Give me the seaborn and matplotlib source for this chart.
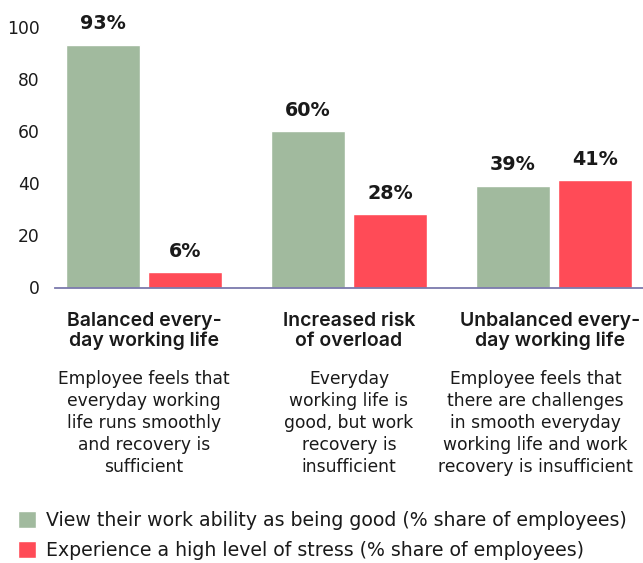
import matplotlib
matplotlib.use("Agg")
import matplotlib.pyplot as plt
import seaborn as sns
import pandas as pd

# Data
groups = ["Balanced", "Increased risk", "Unbalanced"]
work_ability = [93, 60, 39]
high_stress = [6, 28, 41]
series_names = [
    "View their work ability as being good (% share of employees)",
    "Experience a high level of stress (% share of employees)",
]
headers = [
    "Balanced every-\nday working life",
    "Increased risk\nof overload",
    "Unbalanced every-\nday working life",
]
descriptions = [
    "Employee feels that\neveryday working\nlife runs smoothly\nand recovery is\nsufficient",
    "Everyday\nworking life is\ngood, but work\nrecovery is\ninsufficient",
    "Employee feels that\nthere are challenges\nin smooth everyday\nworking life and work\nrecovery is insufficient",
]
y_ticks = [0, 20, 40, 60, 80, 100]

GREEN = "#a1ba9e"
RED = "#ff4b57"
AXIS = "#7b79ad"
TEXT = "#1a1a1a"
BODY_FONT = ["DejaVu Sans"]
HEAD_FONT = ["Inter", "DejaVu Sans"]

df = pd.DataFrame({
    "group": groups * 2,
    "value": work_ability + high_stress,
    "series": [series_names[0]] * 3 + [series_names[1]] * 3,
})

sns.set_theme(style="white")
plt.rcParams["font.family"] = BODY_FONT

W, H = 643, 563
fig = plt.figure(figsize=(W / 100, H / 100), dpi=100)
ax = fig.add_axes([55 / W, 1 - 287.5 / H, 588 / W, (287.5 - 26.5) / H])

sns.barplot(
    data=df, x="group", y="value", hue="series", order=groups,
    hue_order=series_names, palette=[GREEN, RED], width=0.8, gap=0.1,
    saturation=1, ax=ax, legend=True,
)

ax.set_xlim(-0.434, 2.434)
ax.set_ylim(0, 100)
ax.set_yticks(y_ticks)
ax.set_yticklabels([str(t) for t in y_ticks], fontsize=12.3, color=TEXT)
ax.tick_params(axis="y", length=0, pad=11)
ax.tick_params(axis="x", length=0)
ax.set_xticklabels([])
ax.set_xlabel("")
ax.set_ylabel("")
for side in ["left", "right", "top"]:
    ax.spines[side].set_visible(False)
ax.spines["bottom"].set_color(AXIS)
ax.spines["bottom"].set_linewidth(1.3)

# Value labels above bars
for container in ax.containers:
    for bar in container:
        v = bar.get_height()
        ax.annotate(f"{v:.0f}%", (bar.get_x() + bar.get_width() / 2, v),
                    xytext=(0, 11), textcoords="offset points",
                    ha="center", va="baseline", fontsize=13.8,
                    fontweight="bold", color=TEXT, annotation_clip=False)

# Category headings and descriptions below the axis
trans = matplotlib.transforms.blended_transform_factory(ax.transData, fig.transFigure)
header_x = [0, 1, 1.98]
desc_x = [0, 1, 1.91]
for i in range(3):
    ax.text(header_x[i], 1 - 312 / H, headers[i], transform=trans,
            ha="center", va="top", fontsize=14, fontweight="semibold",
            family=HEAD_FONT, color=TEXT, linespacing=1.13)
    ax.text(desc_x[i], 1 - 370 / H, descriptions[i], transform=trans,
            ha="center", va="top", fontsize=12.3, color=TEXT,
            linespacing=1.28)

sns.move_legend(
    ax, loc="upper left", bbox_to_anchor=(18 / W, 1 - 511 / H),
    bbox_transform=fig.transFigure, frameon=False, title=None,
    fontsize=13.6, handlelength=0.97, handleheight=1.0,
    handletextpad=0.5, labelspacing=0.58, borderaxespad=0, borderpad=0,
)
for t in ax.get_legend().get_texts():
    t.set_color(TEXT)

fig.savefig("out.png", dpi=100)
